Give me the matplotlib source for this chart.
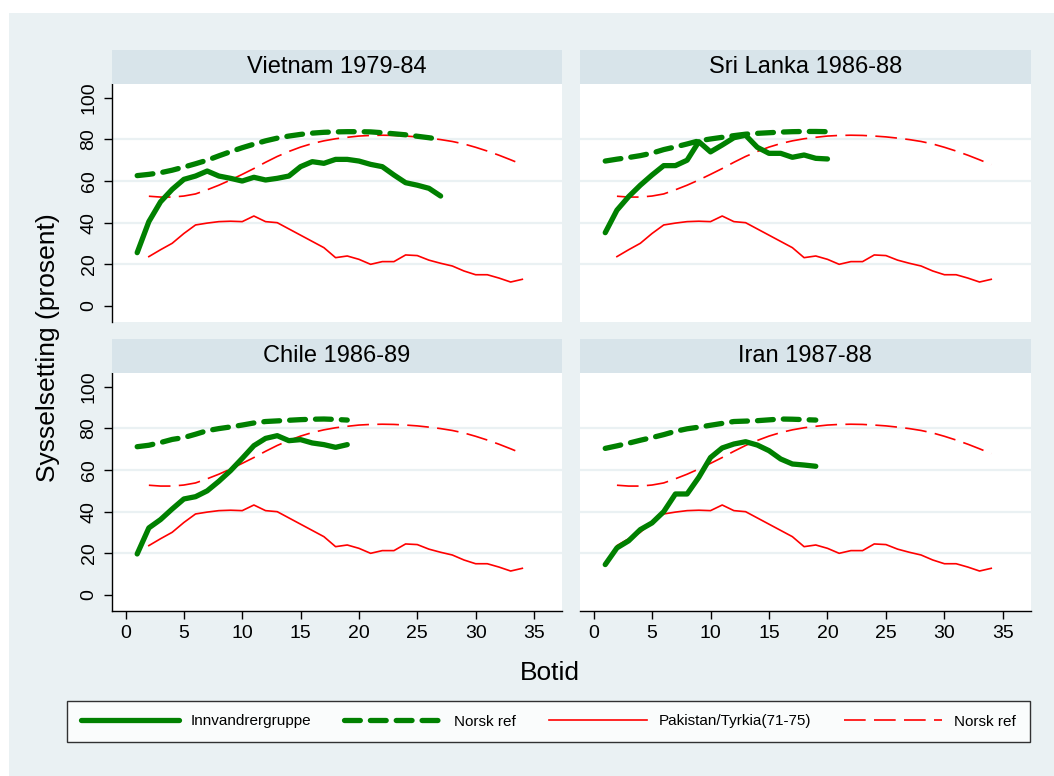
import numpy as np
import matplotlib
matplotlib.use("Agg")
import matplotlib.pyplot as plt
from matplotlib.patches import Rectangle
from matplotlib.lines import Line2D

plt.rcParams['font.family'] = ['Liberation Sans', 'DejaVu Sans']

# reference lines, same in every panel (botid 2..34)
ref_years = list(range(2, 35))
pak_tyr = [23.7, 27.0, 30.1, 34.8, 38.9, 39.8, 40.5, 40.7, 40.5, 43.2, 40.5,
           40.0, 37.0, 34.0, 31.0, 28.0, 23.2, 24.0, 22.4, 20.0, 21.3, 21.3,
           24.5, 24.2, 22.0, 20.5, 19.2, 16.8, 15.0, 15.0, 13.4, 11.5, 12.8]
pak_tyr_norsk = [52.7, 52.3, 52.3, 52.8, 53.8, 55.8, 58.0, 60.5, 63.2, 66.0,
                 69.0, 71.8, 74.2, 76.3, 78.0, 79.3, 80.3, 81.0, 81.6, 81.9,
                 82.0, 81.9, 81.6, 81.2, 80.6, 79.9, 79.0, 77.8, 76.2, 74.4,
                 72.4, 70.2, 67.9]

# immigrant groups
titles = ["Vietnam 1979-84", "Sri Lanka 1986-88", "Chile 1986-89", "Iran 1987-88"]

vietnam = [25.6, 40.5, 50.0, 56.0, 60.8, 62.4, 64.8, 62.4, 61.3, 60.0, 61.8,
           60.5, 61.3, 62.4, 66.9, 69.3, 68.5, 70.4, 70.4, 69.6, 68.0, 66.9,
           62.9, 59.2, 58.0, 56.5, 52.8]
vietnam_norsk = [62.6, 63.2, 64.0, 65.2, 66.7, 68.3, 70.0, 72.1, 74.1, 76.0,
                 77.7, 79.3, 80.6, 81.6, 82.4, 83.0, 83.4, 83.6, 83.7, 83.7,
                 83.6, 83.2, 82.7, 82.2, 81.5, 80.8, 80.0]

srilanka = [35.2, 46.0, 52.5, 58.0, 62.9, 67.4, 67.4, 70.0, 78.9, 74.0, 77.3,
            80.8, 82.0, 76.2, 73.3, 73.3, 71.4, 72.5, 70.9, 70.6]
srilanka_norsk = [69.6, 70.5, 71.3, 72.2, 73.4, 75.1, 76.4, 77.8, 79.3, 80.2,
                  81.0, 81.8, 82.5, 82.9, 83.2, 83.5, 83.7, 83.8, 83.8, 83.7]

chile = [19.7, 32.2, 36.2, 41.3, 46.1, 47.2, 50.0, 54.6, 59.7, 65.6, 71.7,
         75.2, 76.5, 74.1, 74.6, 73.0, 72.2, 70.9, 72.2]
chile_norsk = [71.2, 71.9, 73.2, 74.7, 75.6, 77.2, 78.9, 79.9, 80.7, 81.6,
               82.6, 83.3, 83.6, 83.9, 84.2, 84.4, 84.5, 84.3, 84.0]

iran = [14.6, 22.6, 26.0, 31.4, 34.6, 40.0, 48.5, 48.5, 56.5, 66.0, 70.6,
        72.5, 73.6, 72.0, 69.3, 65.3, 62.9, 62.4, 61.8]
iran_norsk = [70.4, 71.6, 72.9, 74.3, 75.6, 77.0, 78.6, 79.8, 80.6, 81.5,
              82.4, 83.3, 83.5, 83.7, 84.1, 84.5, 84.4, 84.2, 84.0]

groups = [vietnam, srilanka, chile, iran]
groups_norsk = [vietnam_norsk, srilanka_norsk, chile_norsk, iran_norsk]

legend_labels = ["Innvandrergruppe", "Norsk ref", "Pakistan/Tyrkia(71-75)", "Norsk ref"]

W, H = 1054, 776
bg = '#eaf1f3'
strip_col = '#d8e4ea'
green = '#008000'
red = '#ff0000'

fig = plt.figure(figsize=(W / 100, H / 100), dpi=100)
fig.patches.append(Rectangle((9 / W, 0), 1, 1 - 13 / H, transform=fig.transFigure,
                             facecolor=bg, edgecolor='none', zorder=-10))

lefts = [111.5, 579.5]
rights = [562, 1031]
tops = [84, 373]
bottoms = [322, 611]

for i in range(4):
    r, c = divmod(i, 2)
    x0 = lefts[c] / W
    w = (rights[c] - lefts[c]) / W
    y0 = 1 - bottoms[r] / H
    h = (bottoms[r] - tops[r]) / H
    ax = fig.add_axes([x0, y0, w, h])
    ax.set_facecolor('white')

    # strip title
    sax = fig.add_axes([x0, 1 - tops[r] / H, w, 34 / H])
    sax.set_facecolor(strip_col)
    sax.set_xticks([])
    sax.set_yticks([])
    for s in sax.spines.values():
        s.set_visible(False)
    sax.text(0.5, 0.5, titles[i], ha='center', va='center', fontsize=17,
             transform=sax.transAxes)

    yrs = list(range(1, len(groups[i]) + 1))
    yrs_n = list(range(1, len(groups_norsk[i]) + 1))
    ax.plot(ref_years, pak_tyr, color=red, lw=1.2, zorder=3)
    ax.plot(ref_years, pak_tyr_norsk, color=red, lw=1.2, dashes=(13, 5), zorder=3)
    ax.plot(yrs_n, groups_norsk[i], color=green, lw=3.8, dashes=(3, 1.9),
            dash_capstyle='round', zorder=4)
    ax.plot(yrs, groups[i], color=green, lw=3.8, solid_capstyle='round',
            solid_joinstyle='round', zorder=5)

    ax.set_xlim(-1.2, 37.4)
    ax.set_ylim(-7.7, 106.6)
    for yv in [20, 40, 60, 80]:
        ax.axhline(yv, color=bg, lw=1.6, zorder=1)

    for s in ax.spines.values():
        s.set_visible(False)

    ax.set_yticks([0, 20, 40, 60, 80, 100])
    ax.set_xticks(range(0, 40, 5))
    if c == 0:
        ax.spines['left'].set_visible(True)
        ax.spines['left'].set_linewidth(1.0)
        ax.tick_params(axis='y', length=6, width=1, labelsize=14, pad=4,
                       labelrotation=90)
        for lab in ax.get_yticklabels():
            lab.set_va('center')
    else:
        ax.tick_params(axis='y', left=False, labelleft=False)
    if r == 1:
        ax.spines['bottom'].set_visible(True)
        ax.spines['bottom'].set_linewidth(1.0)
        ax.tick_params(axis='x', length=6, width=1, labelsize=14, pad=4)
    else:
        ax.tick_params(axis='x', bottom=False, labelbottom=False)

fig.text(48 / W, 1 - 348 / H, "Sysselsetting (prosent)", rotation=90,
         ha='center', va='center', fontsize=19)
fig.text(550 / W, 1 - 673 / H, "Botid", ha='center', va='center', fontsize=19)

handles = [
    Line2D([], [], color=green, lw=3.8, solid_capstyle='round'),
    Line2D([], [], color=green, lw=3.8, dashes=(3, 1.9), dash_capstyle='round'),
    Line2D([], [], color=red, lw=1.2),
    Line2D([], [], color=red, lw=1.2, dashes=(13, 5)),
]
leg = fig.legend(handles, legend_labels, ncol=4, mode='expand', loc='center',
                 bbox_to_anchor=(67 / W, 1 - 746 / H, (1030 - 67) / W, 49 / H),
                 fontsize=11, handlelength=6.4, handletextpad=0.8,
                 frameon=True, fancybox=False, borderaxespad=0, borderpad=0.9)
leg.get_frame().set_edgecolor('black')
leg.get_frame().set_linewidth(1.0)
leg.get_frame().set_facecolor('white')

fig.savefig("out.png", dpi=100)
